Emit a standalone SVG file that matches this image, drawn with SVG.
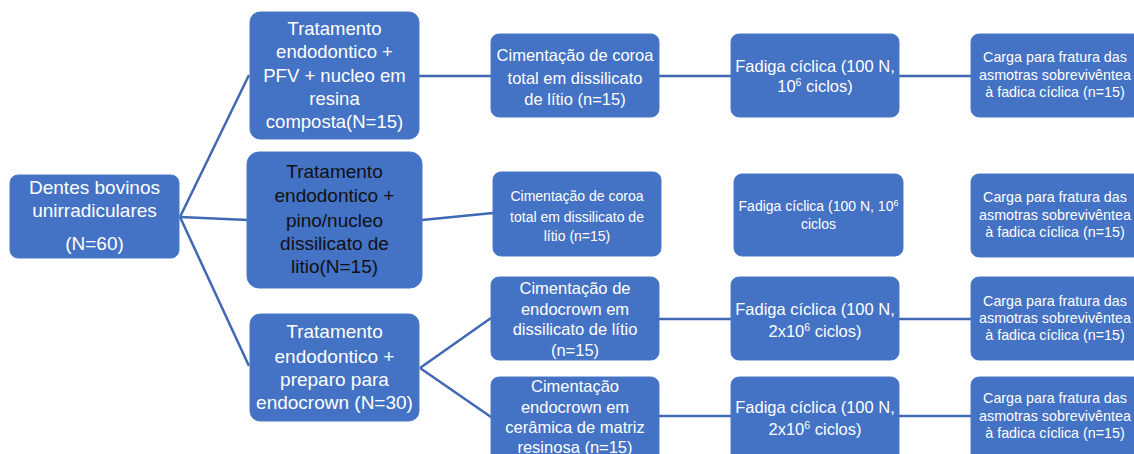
<svg xmlns="http://www.w3.org/2000/svg" width="1134" height="454" viewBox="0 0 1134 454">
<style>
.box{fill:#4472C4;stroke:#4A78C8;stroke-width:1}
.t{font-family:"Liberation Sans",Arial,sans-serif;fill:#FFFFFF;text-anchor:middle}
.dk{fill:#111111}
.f19{font-size:19px}
.f18{font-size:18.5px}
.f16{font-size:16.5px}
.f14{font-size:14px}
.f13{font-size:14.3px}
.con{stroke:#3F68B5;stroke-width:2.5;fill:none}
</style>
<rect width="1134" height="454" fill="#FFFFFF"/>
<g id="connectors">
<line class="con" x1="180" y1="217" x2="249" y2="75"/>
<line class="con" x1="180" y1="217" x2="248" y2="220"/>
<line class="con" x1="180" y1="217" x2="249" y2="366"/>
<line class="con" x1="419" y1="76" x2="491" y2="76"/>
<line class="con" x1="422" y1="220" x2="493" y2="213"/>
<line class="con" x1="420" y1="368" x2="491" y2="318"/>
<line class="con" x1="420" y1="368" x2="491" y2="417"/>
<line class="con" x1="659" y1="76" x2="731" y2="76"/>
<line class="con" x1="659" y1="319" x2="731" y2="319"/>
<line class="con" x1="659" y1="416" x2="731" y2="416"/>
<line class="con" x1="899" y1="76" x2="971" y2="76"/>
<line class="con" x1="899" y1="319" x2="971" y2="319"/>
<line class="con" x1="899" y1="416" x2="971" y2="416"/>
</g>
<g id="root">
<rect class="box" x="10" y="175" width="169" height="83" rx="8"/>
<text class="t f19" x="94.5" y="194">Dentes bovinos</text>
<text class="t f19" x="94.5" y="217">unirradiculares</text>
<text class="t f19" x="94.5" y="250">(N=60)</text>
</g>
<g id="n_pfv">
<rect class="box" x="250" y="12" width="169" height="127" rx="10"/>
<text class="t f18" x="334.5" y="35">Tratamento</text>
<text class="t f18" x="334.5" y="58">endodontico +</text>
<text class="t f18" x="334.5" y="82">PFV + nucleo em</text>
<text class="t f18" x="334.5" y="105">resina</text>
<text class="t f18" x="334.5" y="128">composta(N=15)</text>
</g>
<g id="n_pino">
<rect class="box" x="247" y="152" width="175" height="136" rx="12"/>
<text class="t dk f19" x="334.5" y="178">Tratamento</text>
<text class="t dk f19" x="334.5" y="202">endodontico +</text>
<text class="t dk f19" x="334.5" y="227">pino/nucleo</text>
<text class="t dk f19" x="334.5" y="250">dissilicato de</text>
<text class="t dk f19" x="334.5" y="273">litio(N=15)</text>
</g>
<g id="n_endo">
<rect class="box" x="250" y="314" width="169" height="107" rx="10"/>
<text class="t f19" x="334.5" y="338">Tratamento</text>
<text class="t f19" x="334.5" y="363">endodontico +</text>
<text class="t f19" x="334.5" y="386">preparo para</text>
<text class="t f19" x="334.5" y="409">endocrown (N=30)</text>
</g>
<g id="c3_top">
<rect class="box" x="491" y="34" width="168" height="83" rx="8"/>
<text class="t f16" x="575" y="61">Cimentação de coroa</text>
<text class="t f16" x="575" y="84">total em dissilicato</text>
<text class="t f16" x="575" y="105">de lítio (n=15)</text>
</g>
<g id="c3_mid">
<rect class="box" x="493" y="172" width="168" height="84" rx="8"/>
<text class="t f14" x="577" y="201">Cimentação de coroa</text>
<text class="t f14" x="577" y="222">total em dissilicato de</text>
<text class="t f14" x="577" y="241">lítio (n=15)</text>
</g>
<g id="c3_low">
<rect class="box" x="491" y="277" width="168" height="83" rx="8"/>
<text class="t f16" x="575" y="294">Cimentação de</text>
<text class="t f16" x="575" y="315">endocrown em</text>
<text class="t f16" x="575" y="335">dissilicato de lítio</text>
<text class="t f16" x="575" y="356">(n=15)</text>
</g>
<g id="c3_bot">
<rect class="box" x="491" y="377" width="168" height="90" rx="8"/>
<text class="t f16" x="575" y="392">Cimentação</text>
<text class="t f16" x="575" y="413">endocrown em</text>
<text class="t f16" x="575" y="433">cerâmica de matriz</text>
<text class="t f16" x="575" y="453">resinosa (n=15)</text>
</g>
<g id="c4_top">
<rect class="box" x="731" y="34" width="168" height="83" rx="8"/>
<text class="t f16" x="815" y="72">Fadiga cíclica (100 N,</text>
<text class="t f16" x="815" y="92">10<tspan font-size="10.5" dy="-6">6</tspan><tspan dy="6"> ciclos)</tspan></text>
</g>
<g id="c4_mid">
<rect class="box" x="734" y="174" width="169" height="82" rx="8"/>
<text class="t f14" x="818.5" y="211">Fadiga cíclica (100 N, 10<tspan font-size="9" dy="-5">6</tspan></text>
<text class="t f14" x="818.5" y="229">ciclos</text>
</g>
<g id="c4_low">
<rect class="box" x="731" y="277" width="168" height="83" rx="8"/>
<text class="t f16" x="815" y="315">Fadiga cíclica (100 N,</text>
<text class="t f16" x="815" y="337">2x10<tspan font-size="10.5" dy="-6">6</tspan><tspan dy="6"> ciclos)</tspan></text>
</g>
<g id="c4_bot">
<rect class="box" x="731" y="377" width="168" height="90" rx="8"/>
<text class="t f16" x="815" y="413">Fadiga cíclica (100 N,</text>
<text class="t f16" x="815" y="435">2x10<tspan font-size="10.5" dy="-6">6</tspan><tspan dy="6"> ciclos)</tspan></text>
</g>
<g id="c5_top">
<rect class="box" x="971" y="34" width="170" height="83" rx="8"/>
<text class="t f13" x="1055" y="62">Carga para fratura das</text>
<text class="t f13" x="1055" y="80">asmotras sobrevivêntea</text>
<text class="t f13" x="1055" y="97">à fadica cíclica (n=15)</text>
</g>
<g id="c5_mid">
<rect class="box" x="971" y="174" width="170" height="83" rx="8"/>
<text class="t f13" x="1055" y="202">Carga para fratura das</text>
<text class="t f13" x="1055" y="220">asmotras sobrevivêntea</text>
<text class="t f13" x="1055" y="237">à fadica cíclica (n=15)</text>
</g>
<g id="c5_low">
<rect class="box" x="971" y="277" width="170" height="83" rx="8"/>
<text class="t f13" x="1055" y="306">Carga para fratura das</text>
<text class="t f13" x="1055" y="323">asmotras sobrevivêntea</text>
<text class="t f13" x="1055" y="340">à fadica cíclica (n=15)</text>
</g>
<g id="c5_bot">
<rect class="box" x="971" y="377" width="170" height="90" rx="8"/>
<text class="t f13" x="1055" y="403">Carga para fratura das</text>
<text class="t f13" x="1055" y="421">asmotras sobrevivêntea</text>
<text class="t f13" x="1055" y="438">à fadica cíclica (n=15)</text>
</g>
</svg>
